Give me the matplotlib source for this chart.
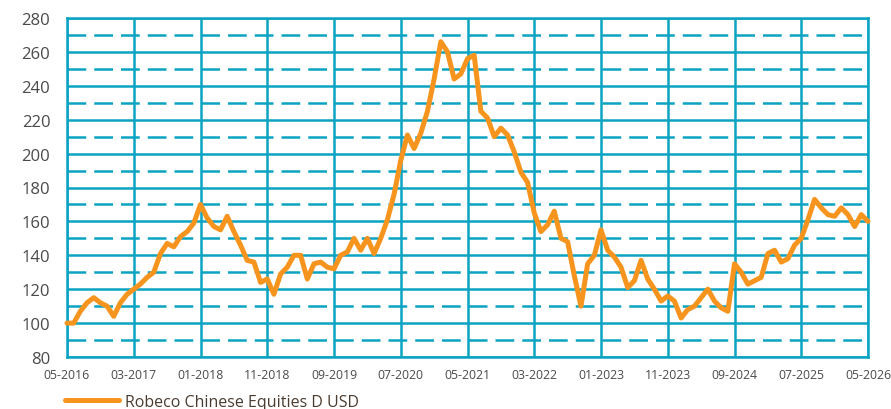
import matplotlib
matplotlib.use("Agg")
import matplotlib.pyplot as plt
from matplotlib.ticker import MultipleLocator

# monthly values, 05-2016 .. 05-2026
values = [
    100, 100, 107, 112, 115, 112, 110, 104, 112, 117,
    120, 123, 127, 130, 141, 147, 145, 151, 154, 159,
    170, 162, 157, 155, 163, 154, 146, 137, 136, 124,
    126, 117, 129, 133, 140, 140, 126, 135, 136, 133,
    132, 140, 142, 150, 143, 150, 141, 150, 161, 176,
    196, 211, 203, 212, 225, 244, 266, 260, 244, 247,
    256, 258, 225, 221, 210, 215, 211, 201, 189, 183,
    165, 154, 158, 166, 150, 148, 128, 110, 135, 140,
    155, 143, 139, 133, 121, 125, 137, 126, 120, 113,
    116, 113, 103, 108, 110, 115, 120, 113, 109, 107,
    135, 130, 123, 125, 127, 141, 143, 136, 138, 146,
    150, 161, 173, 168, 164, 163, 168, 164, 157, 164,
    160,
]
tick_labels = ["05-2016", "03-2017", "01-2018", "11-2018", "09-2019", "07-2020",
               "05-2021", "03-2022", "01-2023", "11-2023", "09-2024", "07-2025",
               "05-2026"]
series_name = "Robeco Chinese Equities D USD"

teal = "#0AA3C2"
orange = "#F7941D"

plt.rcParams["font.family"] = ["Open Sans", "DejaVu Sans"]

fig = plt.figure(figsize=(8.91, 4.10), dpi=100)
ax = fig.add_axes([67 / 891, 52 / 410, 801 / 891, 339 / 410])

months = list(range(len(values)))
ax.plot(months, values, color=orange, lw=3.6, solid_joinstyle="round",
        solid_capstyle="round", label=series_name, zorder=3, clip_on=False)

ax.set_xlim(0, 120)
ax.set_ylim(80, 280)
ax.set_xticks(range(0, 121, 10))
ax.set_xticklabels(tick_labels)
ax.yaxis.set_major_locator(MultipleLocator(20))
ax.yaxis.set_minor_locator(MultipleLocator(10))

ax.grid(which="major", axis="both", color=teal, lw=1.8)
ax.grid(which="minor", axis="y", color=teal, lw=1.8, dashes=(7.5, 3.2))
ax.set_axisbelow(True)

for sp in ax.spines.values():
    sp.set_color(teal)
    sp.set_linewidth(1.8)

ax.tick_params(axis="both", which="both", length=0)
ax.tick_params(axis="y", labelsize=12, labelcolor="#4a4a4a", pad=12)
ax.tick_params(axis="x", labelsize=8.8, labelcolor="#4a4a4a", pad=8)

leg = fig.legend(loc="center left", bbox_to_anchor=(65 / 891, 7 / 410),
                 frameon=False, fontsize=11.5, handlelength=3.4,
                 handletextpad=0.35, borderpad=0, borderaxespad=0)
for t in leg.get_texts():
    t.set_color("#4a3b30")

fig.savefig("out.png", dpi=100)
